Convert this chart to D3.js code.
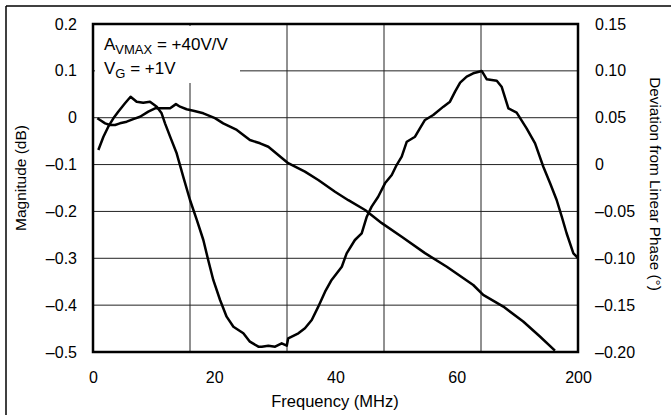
<!DOCTYPE html>
<html><head><meta charset="utf-8">
<script src="https://cdn.jsdelivr.net/npm/d3@7"></script>
<style>
html,body{margin:0;padding:0;background:#fff;}
svg{display:block;font-family:"Liberation Sans",Arial,Helvetica,sans-serif;}
</style></head>
<body>
<svg id="chart" width="671" height="415"></svg>
<script>
// ---- data ----
const magFreq = [1.8,2.9,5.0,7.0,9.1,11.1,13.9,16.6,19.4,22.8,25.6,28.3,31.8,34.2,35.9,38.6,41.4,45.5,50.3,53.7,59.3,64.7,68.9,72.3,80.5,87.4,92.9,99.8,105.3,112.2,119.1,127.3,136.9,145.9,156.8,160.9,169.2,177.4,184.3,190.5];
const magDB = [-0.001,-0.005,-0.012,-0.0155,-0.0155,-0.012,-0.0085,-0.003,0.002,0.013,0.020,0.020,0.020,0.029,0.0235,0.018,0.015,0.0094,-0.001,-0.012,-0.026,-0.0475,-0.0546,-0.062,-0.097,-0.115,-0.133,-0.158,-0.176,-0.197,-0.225,-0.254,-0.289,-0.318,-0.357,-0.378,-0.403,-0.435,-0.467,-0.497];
const phaseFreq = [2.2,4.3,6.3,8.4,10.4,13.2,15.5,18.0,20.7,23.5,26.3,28.3,29.7,31.8,34.5,37.2,40.0,42.8,45.5,47.5,49.6,52.4,55.1,57.9,62.0,64.7,68.2,69.6,72.3,75.1,77.8,79.9,80.5,84.7,87.4,90.2,92.9,95.7,98.4,102.6,104.6,108.0,110.8,112.9,114.9,117.6,120.4,123.2,125.2,127.3,129.4,132.8,134.8,136.9,140.3,144.5,147.2,149.3,151.4,154.1,156.8,160.3,162.4,166.5,168.5,171.3,174.7,178.8,182.3,185.7,188.5,191.2,193.3,195.3,198.1,200];
const phaseDeg = [0.0156,0.0297,0.0404,0.0494,0.0564,0.0654,0.0724,0.0671,0.066,0.0671,0.0618,0.0547,0.044,0.0298,0.012,-0.0129,-0.0378,-0.0591,-0.0805,-0.1018,-0.1231,-0.1445,-0.1623,-0.173,-0.18,-0.189,-0.1943,-0.1943,-0.1933,-0.1943,-0.1907,-0.1933,-0.1854,-0.18,-0.1747,-0.1658,-0.1516,-0.1356,-0.1231,-0.109,-0.0947,-0.0805,-0.0733,-0.0556,-0.0449,-0.0343,-0.02,-0.0111,-0.0005,0.0084,0.0244,0.0297,0.0387,0.0476,0.0529,0.0618,0.0671,0.0778,0.0874,0.0938,0.0974,0.0999,0.091,0.0895,0.0831,0.06,0.0554,0.0387,0.0227,-0.0023,-0.02,-0.0378,-0.0556,-0.0733,-0.0947,-0.0997];
const xTickLabels = ["0","20","40","60","200"];
const xGridValues = [40,80,120,160];
const yLeftTicks = [0.2,0.1,0,-0.1,-0.2,-0.3,-0.4,-0.5];
const yLeftLabels = ["0.2","0.1","0","\u20130.1","\u20130.2","\u20130.3","\u20130.4","\u20130.5"];
const yRightTicks = [0.15,0.10,0.05,0,-0.05,-0.10,-0.15,-0.20];
const yRightLabels = ["0.15","0.10","0.05","0","\u20130.05","\u20130.10","\u20130.15","\u20130.20"];

// ---- layout ----
const L = 93, R = 578, T = 24, B = 352;
const svg = d3.select("#chart");
const x = d3.scaleLinear().domain([0,200]).range([L,R]);
const xLab = d3.scalePoint().domain(xTickLabels).range([L,R]);
const yL = d3.scaleLinear().domain([-0.5,0.2]).range([B,T]);
const yR = d3.scaleLinear().domain([-0.20,0.15]).range([B,T]);

// outer frame lines (top and left)
svg.append("line").attr("x1",6).attr("x2",671).attr("y1",6).attr("y2",6).attr("stroke","#000").attr("stroke-width",1.5);
svg.append("line").attr("x1",6).attr("x2",6).attr("y1",6).attr("y2",415).attr("stroke","#000").attr("stroke-width",1.5);

// grid
const grid = svg.append("g").attr("stroke","#222").attr("stroke-width",1);
grid.selectAll("line.h").data(yLeftTicks.slice(1,-1)).join("line")
  .attr("x1",L).attr("x2",R).attr("y1",d=>yL(d)).attr("y2",d=>yL(d));
grid.selectAll("line.v").data(xGridValues).join("line")
  .attr("x1",d=>x(d)).attr("x2",d=>x(d)).attr("y1",T).attr("y2",B);

// legend box (white) and text
svg.append("rect").attr("x",L+2).attr("y",T+2).attr("width",145).attr("height",57).attr("fill","#fff");
const lg = svg.append("g").attr("font-size",17).attr("fill","#000");
const t1 = lg.append("text").attr("x",104).attr("y",50);
t1.append("tspan").text("A");
t1.append("tspan").attr("font-size",13).attr("dy",4).text("VMAX");
t1.append("tspan").attr("dy",-4).text(" = +40V/V");
const t2 = lg.append("text").attr("x",104).attr("y",74);
t2.append("tspan").text("V");
t2.append("tspan").attr("font-size",13).attr("dy",4).text("G");
t2.append("tspan").attr("dy",-4).text(" = +1V");

// curves
const magData = magFreq.map((f,i)=>[f,magDB[i]]);
const phData = phaseFreq.map((f,i)=>[f,phaseDeg[i]]);
svg.append("path").datum(magData)
  .attr("d", d3.line().x(d=>x(d[0])).y(d=>yL(d[1])))
  .attr("fill","none").attr("stroke","#000").attr("stroke-width",2.5).attr("stroke-linejoin","round");
svg.append("path").datum(phData)
  .attr("d", d3.line().x(d=>x(d[0])).y(d=>yR(d[1])))
  .attr("fill","none").attr("stroke","#000").attr("stroke-width",2.5).attr("stroke-linejoin","round");

// plot frame
svg.append("rect").attr("x",L).attr("y",T).attr("width",R-L).attr("height",B-T)
  .attr("fill","none").attr("stroke","#000").attr("stroke-width",2.5);

// axes labels
const fs = 16;
const axB = svg.append("g").attr("transform",`translate(0,${B})`)
  .call(d3.axisBottom(xLab).tickSize(0).tickPadding(20));
axB.select(".domain").remove();
axB.selectAll("text").attr("font-size",fs).attr("font-family",null).attr("fill","#000");

const axL = svg.append("g").attr("transform",`translate(${L},0)`)
  .call(d3.axisLeft(yL).tickValues(yLeftTicks).tickFormat((d,i)=>yLeftLabels[i]).tickSize(0).tickPadding(16));
axL.select(".domain").remove();
axL.selectAll("text").attr("font-size",fs).attr("font-family",null).attr("fill","#000");

const axR = svg.append("g").attr("transform",`translate(${R},0)`)
  .call(d3.axisRight(yR).tickValues(yRightTicks).tickFormat((d,i)=>yRightLabels[i]).tickSize(0).tickPadding(17));
axR.select(".domain").remove();
axR.selectAll("text").attr("font-size",fs).attr("font-family",null).attr("fill","#000");

// titles
svg.append("text").attr("x",335).attr("y",407).attr("text-anchor","middle").attr("font-size",16.5).text("Frequency (MHz)");
svg.append("text").attr("transform","translate(26,178) rotate(-90)").attr("text-anchor","middle").attr("font-size",15.5).text("Magnitude (dB)");
svg.append("text").attr("transform","translate(650,184) rotate(90)").attr("text-anchor","middle").attr("font-size",15.3).text("Deviation from Linear Phase (\u00B0)");
</script>
</body></html>
